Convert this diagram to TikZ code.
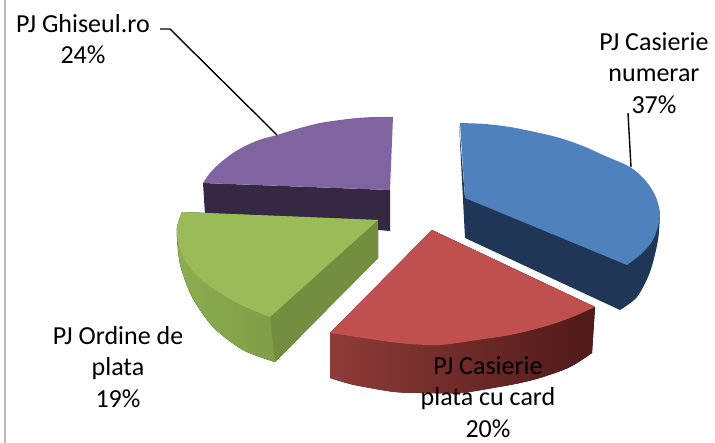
\documentclass[tikz,border=0pt]{standalone}
\usepackage{fontspec}
\setmainfont{Carlito}
\definecolor{bluetop}{HTML}{4F81BD}
\definecolor{bluedark}{HTML}{1F3656}
\definecolor{redtop}{HTML}{C0504D}
\definecolor{redsideL}{HTML}{8E3B38}
\definecolor{redsideR}{HTML}{4E1A18}
\definecolor{greentop}{HTML}{9BBB59}
\definecolor{greensideL}{HTML}{8DAD51}
\definecolor{greensideR}{HTML}{6F8D3C}
\definecolor{greenface}{HTML}{728F40}
\definecolor{purpletop}{HTML}{8064A2}
\definecolor{purpledark}{HTML}{352842}
\begin{document}
\begin{tikzpicture}[x=1pt,y=-1pt,
  lbl/.style={align=center,inner sep=0pt,font=\fontsize{26}{31.5}\selectfont},
  leader/.style={draw=black,line width=1.4pt}]
\useasboundingbox (0,0) rectangle (715,443);
% left border
\draw[gray!55,line width=1.6pt] (5,0) -- (5,443);

% ---------- purple (back left) ----------
\fill[purpledark] (203,183) -- (390,190) -- (390,231) -- (205,215) -- cycle;
\fill[purpletop] (390,190) -- (203,183) -- plot[smooth] coordinates {(203,183) (210,173) (220,163) (233,153) (247,145) (262,139) (277,135) (300,128) (320,123) (340,120) (357,118) (375,117) (393,117)} -- cycle;

% ---------- blue (back right) ----------
\fill[bluedark] (465,198) -- (459,123) -- (465,238) -- (620,310) -- plot[smooth] coordinates {(620,310) (637,297) (650,272) (658,240) (660,213)} -- cycle;
\fill[bluetop] (465,198) -- (460,123) -- plot[smooth] coordinates {(460,123) (485,124) (510,127) (535,132) (560,138) (583,146) (603,155) (630,167) (645,180) (655,195) (660,213) (657,230) (651,243) (640,255) (627,265)} -- cycle;

% ---------- green (left) ----------
\fill[left color=greensideL,right color=greensideR] (378,220) -- (182,212) -- plot[smooth] coordinates {(182,212) (177,228) (178,250) (181,268) (192,297) (213,327) (243,350) (275,362)} -- (378,258) -- cycle;
\fill[greenface] (270,317) -- (275,362) -- (378,258) -- (378,220) -- cycle;
\fill[greentop] (378,220) -- (182,212) -- plot[smooth] coordinates {(182,212) (177,227) (178,240) (182,255) (192,270) (203,281) (220,293) (237,303) (255,311) (270,317)} -- cycle;

% ---------- red (front) ----------
\fill[left color=redsideL,right color=redsideR] (432,230) -- (330,333) -- (330,378) -- plot[smooth] coordinates {(330,378) (350,384) (370,388) (395,392) (420,393) (460,393) (493,388) (520,383) (543,377) (570,367) (592,353)} -- (595,307) -- cycle;
\fill[redtop] (432,230) -- (330,333) -- plot[smooth] coordinates {(330,333) (350,336) (370,339) (390,342) (410,344) (440,345) (477,340) (510,335) (543,327) (570,318) (595,307)} -- cycle;

% ---------- labels ----------
\node[lbl] (lg) at (83,39) {PJ Ghiseul.ro\\24\%};
\node[lbl] (lb) at (654,73) {PJ Casierie\\numerar\\37\%};
\node[lbl] (lo) at (118,367) {PJ Ordine de\\plata\\19\%};
\node[lbl] (lr) at (488,397) {PJ Casierie\\plata cu card\\20\%};

% ---------- leaders ----------
\coordinate (g0) at (160,29);
\coordinate (g1) at (170,29);
\coordinate (gp) at (277,135);
\coordinate (b0) at (628,113);
\coordinate (bp) at (631,167);
\draw[leader] (g0) -- (g1) -- (gp);
\draw[leader] (b0) -- (bp);
\end{tikzpicture}
\end{document}
